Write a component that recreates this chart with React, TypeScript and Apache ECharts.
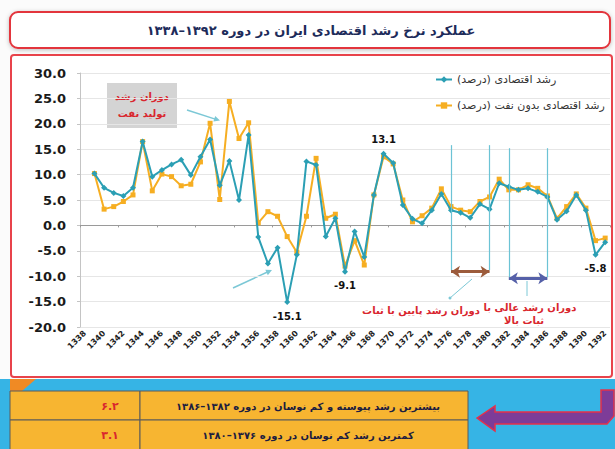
import React, { useEffect, useRef } from 'react';
import * as echarts from 'echarts';

const years = [
  '1338', '1339', '1340', '1341', '1342', '1343', '1344', '1345', '1346', '1347',
  '1348', '1349', '1350', '1351', '1352', '1353', '1354', '1355', '1356', '1357',
  '1358', '1359', '1360', '1361', '1362', '1363', '1364', '1365', '1366', '1367',
  '1368', '1369', '1370', '1371', '1372', '1373', '1374', '1375', '1376', '1377',
  '1378', '1379', '1380', '1381', '1382', '1383', '1384', '1385', '1386', '1387',
  '1388', '1389', '1390', '1391', '1392',
];

// رشد اقتصادی (درصد)
const growth: (number | null)[] = [
  null, 10.2, 7.4, 6.4, 5.8, 7.4, 16.5, 9.6, 10.9, 12.0,
  12.9, 9.9, 13.5, 16.9, 7.9, 12.7, 5.0, 17.8, -2.3, -7.5,
  -4.4, -15.1, -5.8, 12.6, 11.9, -2.2, 1.4, -9.1, -1.2, -6.2,
  6.0, 14.1, 12.3, 4.0, 1.3, 0.4, 3.0, 6.2, 3.0, 2.5,
  1.5, 4.2, 3.2, 8.3, 7.6, 7.0, 7.3, 6.6, 5.6, 1.1,
  2.8, 6.0, 3.0, -5.8, -3.3,
];

// رشد اقتصادی بدون نفت (درصد)
const nonOilGrowth: (number | null)[] = [
  null, 10.2, 3.2, 3.7, 4.7, 6.0, 16.5, 6.8, 10.1, 9.6,
  7.8, 8.1, 12.5, 20.1, 5.1, 24.4, 17.1, 20.2, 0.5, 2.7,
  1.8, -2.2, -5.3, 1.8, 13.2, 1.4, 2.2, -8.0, -3.0, -7.8,
  6.0, 13.5, 12.1, 5.0, 0.7, 1.9, 3.4, 7.2, 3.7, 3.0,
  2.7, 4.7, 5.6, 9.1, 7.0, 7.0, 8.0, 7.3, 5.8, 1.4,
  3.7, 6.2, 3.4, -3.0, -2.5,
];

const labelYears = ['1359', '1365', '1369', '1391'];
const labelTexts = ['-15.1', '-9.1', '13.1', '-5.8'];
const labelPositions = ['bottom', 'bottom', 'top', 'bottom'];

const seriesNames = ['رشد اقتصادی (درصد)', 'رشد اقتصادی بدون نفت (درصد)'];
const titleText = 'عملکرد نرخ رشد اقتصادی ایران در دوره ۱۳۹۲–۱۳۳۸';
const tableTexts = [
  'بیشترین رشد پیوسته و کم نوسان در دوره ۱۳۸۲–۱۳۸۶',
  'کمترین رشد کم نوسان در دوره ۱۳۷۶–۱۳۸۰',
];
const tableValues = ['۶.۲', '۳.۱'];
const lowPeriod = ['1376', '1380'];
const highPeriod = ['1382', '1386'];

const FA = '"DejaVu Sans", sans-serif';

export default function App() {
  const ref = useRef<HTMLDivElement>(null);

  useEffect(() => {
    if (!ref.current) return;
    const chart = echarts.init(ref.current, null, { renderer: 'svg' });

    const tealData = years.map((y, i) => {
      const k = labelYears.indexOf(y);
      if (k < 0) return growth[i];
      return {
        value: growth[i],
        label: {
          show: true,
          position: labelPositions[k],
          formatter: labelTexts[k],
          color: '#111',
          fontWeight: 'bold',
          fontSize: 10,
          fontFamily: FA,
          distance: 6,
        },
      };
    });

    const teal = '#2b9fb4';
    const orange = '#f6ae22';
    const red = '#d9262e';

    const arrowHead = (tip: number[], from: number[], color: string) => {
      const dx = tip[0] - from[0];
      const dy = tip[1] - from[1];
      const len = Math.sqrt(dx * dx + dy * dy);
      const ux = dx / len;
      const uy = dy / len;
      const bx = tip[0] - ux * 6;
      const by = tip[1] - uy * 6;
      return {
        type: 'polygon',
        shape: { points: [tip, [bx - uy * 3, by + ux * 3], [bx + uy * 3, by - ux * 3]] },
        style: { fill: color },
        silent: true,
      };
    };

    const table: any[] = [];
    const rowTop = [391, 420];
    const rowH = [29, 30];
    for (let r = 0; r < 2; r++) {
      table.push({
        type: 'rect',
        shape: { x: 10, y: rowTop[r], width: 130, height: rowH[r] },
        style: { fill: '#f7b531', stroke: '#5a5a5a', lineWidth: 1 },
        silent: true,
      });
      table.push({
        type: 'rect',
        shape: { x: 140, y: rowTop[r], width: 328, height: rowH[r] },
        style: { fill: '#f7b531', stroke: '#5a5a5a', lineWidth: 1 },
        silent: true,
      });
      table.push({
        type: 'text',
        x: 110,
        y: rowTop[r] + 15,
        style: {
          text: tableValues[r],
          font: `bold 11px ${FA}`,
          fill: red,
          align: 'center',
          verticalAlign: 'middle',
        },
        silent: true,
      });
      table.push({
        type: 'text',
        x: 308,
        y: rowTop[r] + 15,
        style: {
          text: tableTexts[r],
          font: `bold 10px ${FA}`,
          fill: '#1d1d40',
          align: 'center',
          verticalAlign: 'middle',
        },
        silent: true,
      });
    }

    const option: any = {
      animation: false,
      backgroundColor: '#fbfbfb',
      legend: {
        data: [seriesNames[0], seriesNames[1]],
        orient: 'vertical',
        left: 430,
        top: 69,
        itemGap: 15,
        itemWidth: 16,
        itemHeight: 8,
        textStyle: { fontFamily: FA, fontSize: 11, color: '#333' },
      },
      grid: { left: 80, top: 73, width: 530, height: 254, containLabel: false },
      xAxis: [
        {
          type: 'category',
          data: years,
          boundaryGap: true,
          position: 'bottom',
          axisLine: { show: false, onZero: false },
          axisTick: { show: false },
          axisLabel: {
            interval: 1,
            rotate: 45,
            fontSize: 8,
            fontWeight: 'bold',
            fontFamily: FA,
            color: '#222',
            margin: 5,
          },
          splitLine: { show: false },
        },
        {
          type: 'category',
          data: years,
          boundaryGap: true,
          position: 'bottom',
          axisLine: { show: true, onZero: true, lineStyle: { color: '#9a9a9a', width: 1 } },
          axisTick: { show: true, length: 2, lineStyle: { color: '#9a9a9a' } },
          axisLabel: { show: false },
          splitLine: { show: false },
        },
      ],
      yAxis: {
        type: 'value',
        min: -20,
        max: 30,
        interval: 5,
        axisLine: { show: true, lineStyle: { color: '#c4c4c4' } },
        axisTick: { show: true, length: 3, lineStyle: { color: '#c4c4c4' } },
        axisLabel: {
          formatter: (v: number) => v.toFixed(1),
          fontFamily: FA,
          fontWeight: 'bold',
          fontSize: 13,
          color: '#1a1a1a',
          margin: 14,
        },
        splitLine: { show: true, lineStyle: { color: '#e6e6e6' } },
      },
      series: [
        {
          name: seriesNames[1],
          type: 'line',
          data: nonOilGrowth,
          symbol: 'rect',
          symbolSize: 5,
          lineStyle: { color: orange, width: 2 },
          itemStyle: { color: orange },
          z: 2,
          markLine: {
            silent: true,
            symbol: ['arrow', 'arrow'],
            symbolSize: [9, 9],
            label: { show: false },
            data: [
              [
                { coord: [lowPeriod[0], -9.1], lineStyle: { color: '#9c5b3b', width: 3, type: 'solid' } },
                { coord: [lowPeriod[1], -9.1] },
              ],
              [
                { coord: [highPeriod[0], -10.4], lineStyle: { color: '#5560a8', width: 3, type: 'solid' } },
                { coord: [highPeriod[1], -10.4] },
              ],
            ],
          },
        },
        {
          name: seriesNames[0],
          type: 'line',
          data: tealData,
          symbol: 'diamond',
          symbolSize: 6,
          lineStyle: { color: teal, width: 2 },
          itemStyle: { color: teal },
          z: 3,
          markLine: {
            silent: true,
            symbol: ['none', 'none'],
            label: { show: false },
            lineStyle: { color: '#6cc3d5', width: 1.2, type: 'solid' },
            data: [
              [{ coord: [lowPeriod[0], 15.8] }, { coord: [lowPeriod[0], -8.8] }],
              [{ coord: [lowPeriod[1], 15.8] }, { coord: [lowPeriod[1], -8.8] }],
              [{ coord: [highPeriod[0], 15.2] }, { coord: [highPeriod[0], -10.2] }],
              [{ coord: [highPeriod[1], 15.2] }, { coord: [highPeriod[1], -10.2] }],
            ],
          },
        },
      ],
      graphic: [
        {
          type: 'rect',
          z: -100,
          shape: { x: 11, y: 55, width: 601, height: 322, r: 3 },
          style: { fill: '#ffffff', stroke: '#e8434b', lineWidth: 2 },
          silent: true,
        },
        {
          type: 'rect',
          shape: { x: 10, y: 12, width: 600, height: 36, r: 8 },
          style: {
            fill: '#ffffff',
            stroke: '#e3343c',
            lineWidth: 2,
            shadowBlur: 4,
            shadowColor: 'rgba(0,0,0,0.25)',
            shadowOffsetY: 1,
          },
          silent: true,
        },
        {
          type: 'text',
          x: 311,
          y: 30,
          style: {
            text: titleText,
            font: `bold 13px ${FA}`,
            fill: '#1d2b5a',
            align: 'center',
            verticalAlign: 'middle',
          },
          silent: true,
        },
        {
          type: 'rect',
          shape: { x: 0, y: 379, width: 615, height: 70 },
          style: { fill: '#36b4e5' },
          silent: true,
        },
        {
          type: 'polygon',
          shape: { points: [[10, 379], [36, 379], [22, 391], [10, 391]] },
          style: { fill: '#f08a24' },
          silent: true,
        },
        ...table,
        {
          type: 'polygon',
          shape: {
            points: [
              [477, 418], [495, 406], [495, 412], [601, 412], [601, 390], [614, 390],
              [614, 416], [607, 424], [495, 424], [495, 431],
            ],
          },
          style: { fill: '#7d3c98', stroke: '#e5304a', lineWidth: 1.5 },
          silent: true,
        },
        {
          type: 'rect',
          shape: { x: 107, y: 83, width: 70, height: 45 },
          style: { fill: '#d4d4d4' },
          silent: true,
        },
        {
          type: 'text',
          x: 142,
          y: 96,
          style: { text: 'دوران رشد', font: `bold 10px ${FA}`, fill: red, align: 'center', verticalAlign: 'middle' },
          silent: true,
        },
        {
          type: 'text',
          x: 142,
          y: 113,
          style: { text: 'تولید نفت', font: `bold 10px ${FA}`, fill: red, align: 'center', verticalAlign: 'middle' },
          silent: true,
        },
        {
          type: 'line',
          shape: { x1: 187, y1: 110, x2: 216, y2: 119.4 },
          style: { stroke: '#7cc8d6', lineWidth: 1.5 },
          silent: true,
        },
        arrowHead([220, 120.6], [187, 110], '#7cc8d6'),
        {
          type: 'line',
          shape: { x1: 233, y1: 288, x2: 268, y2: 271.8 },
          style: { stroke: '#7cc8d6', lineWidth: 1.5 },
          silent: true,
        },
        arrowHead([272, 270], [233, 288], '#7cc8d6'),
        {
          type: 'line',
          shape: { x1: 450, y1: 298, x2: 472, y2: 279 },
          style: { stroke: '#7cc8d6', lineWidth: 1 },
          silent: true,
        },
        {
          type: 'circle',
          shape: { cx: 450, cy: 298, r: 1.5 },
          style: { fill: '#7cc8d6' },
          silent: true,
        },
        {
          type: 'text',
          x: 421,
          y: 310,
          style: { text: 'دوران رشد پایین با ثبات', font: `bold 10px ${FA}`, fill: red, align: 'center', verticalAlign: 'middle' },
          silent: true,
        },
        {
          type: 'line',
          shape: { x1: 527, y1: 281, x2: 527, y2: 296 },
          style: { stroke: '#7cc8d6', lineWidth: 1 },
          silent: true,
        },
        {
          type: 'text',
          x: 530,
          y: 307,
          style: { text: 'دوران رشد عالی با', font: `bold 10px ${FA}`, fill: red, align: 'center', verticalAlign: 'middle' },
          silent: true,
        },
        {
          type: 'text',
          x: 524,
          y: 320,
          style: { text: 'ثبات بالا', font: `bold 10px ${FA}`, fill: red, align: 'center', verticalAlign: 'middle' },
          silent: true,
        },
      ],
    };

    chart.setOption(option);
    return () => chart.dispose();
  }, []);

  return (
    <div
      ref={ref}
      style={{ position: 'fixed', left: 0, top: 0, width: 615, height: 449 }}
    />
  );
}
